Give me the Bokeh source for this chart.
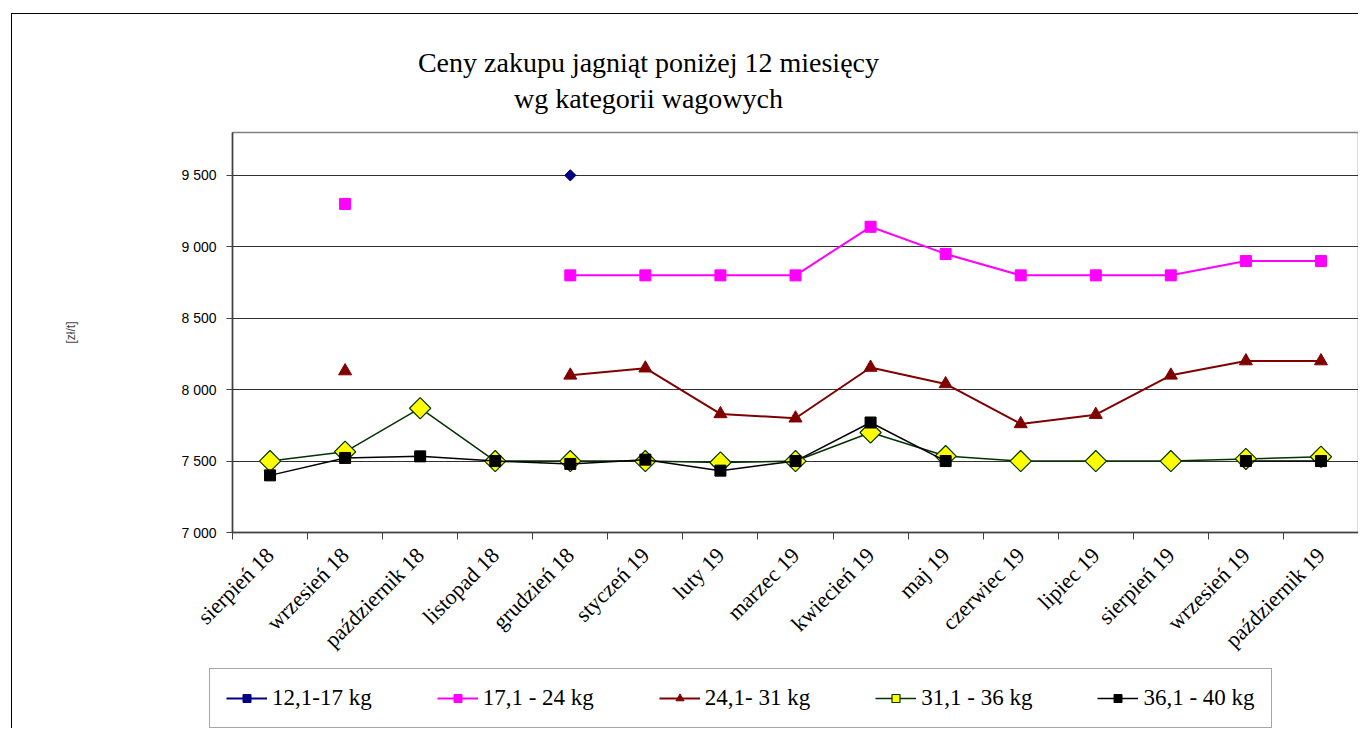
import math
from bokeh.plotting import figure
from bokeh.layouts import column
from bokeh.models import Range1d, FixedTicker, Legend, LegendItem, Title
from bokeh.embed import file_html
from bokeh.resources import INLINE

nan = float("nan")

months = ["sierpień 18", "wrzesień 18", "październik 18", "listopad 18", "grudzień 18",
          "styczeń 19", "luty 19", "marzec 19", "kwiecień 19", "maj 19", "czerwiec 19",
          "lipiec 19", "sierpień 19", "wrzesień 19", "październik 19"]

s_12_17 = [nan, nan, nan, nan, 9500, nan, nan, nan, nan, nan, nan, nan, nan, nan, nan]
s_17_24 = [nan, 9300, nan, nan, 8800, 8800, 8800, 8800, 9140, 8950, 8800, 8800, 8800, 8900, 8900]
s_24_31 = [nan, 8130, nan, nan, 8100, 8150, 7830, 7800, 8155, 8040, 7760, 7825, 8100, 8200, 8200]
s_31_36 = [7500, 7565, 7870, 7500, 7500, 7500, 7490, 7500, 7700, 7535, 7500, 7500, 7500, 7515, 7530]
s_36_40 = [7400, 7522, 7533, 7500, 7480, 7510, 7433, 7500, 7770, 7500, nan, nan, nan, 7500, 7500]

series_names = ["12,1-17 kg", "17,1 - 24 kg", "24,1- 31 kg", "31,1 - 36 kg", "36,1 - 40 kg"]

y_ticks = [7000, 7500, 8000, 8500, 9000, 9500]
y_tick_labels = ["7 000", "7 500", "8 000", "8 500", "9 000", "9 500"]

title_lines = ["Ceny zakupu jagniąt poniżej 12 miesięcy", "wg kategorii wagowych"]
y_label = "[zł/t]"

xs = [i + 0.5 for i in range(len(months))]

p = figure(width=1347, height=654, output_backend="svg", toolbar_location=None,
           x_range=Range1d(0, len(months)), y_range=Range1d(7000, 9800),
           min_border_left=220, min_border_right=1, min_border_top=118, min_border_bottom=136)
p.margin = (13, 0, 0, 11)
p.styles = {"border-left": "1px solid black", "border-top": "1px solid black"}
p.background_fill_color = "white"
p.border_fill_color = "white"
p.outline_line_color = "#808080"
p.outline_line_width = 1.5

# axes
xa = p.xaxis[0]
xa.ticker = FixedTicker(ticks=xs, minor_ticks=list(range(len(months) + 1)))
xa.major_label_overrides = {x: m for x, m in zip(xs, months)}
xa.major_label_orientation = math.pi / 4
xa.major_tick_line_color = None
xa.major_tick_out = 0
xa.major_tick_in = 0
xa.minor_tick_out = 7
xa.minor_tick_in = 0
xa.minor_tick_line_color = "#404040"
xa.major_label_standoff = 12
xa.major_label_text_font = "Liberation Serif"
xa.major_label_text_font_size = "22px"
xa.major_label_text_color = "black"
xa.axis_line_color = "#404040"
xa.axis_line_width = 1.5

ya = p.yaxis[0]
ya.ticker = FixedTicker(ticks=y_ticks)
ya.major_label_overrides = {t: l for t, l in zip(y_ticks, y_tick_labels)}
ya.major_tick_out = 6
ya.major_tick_in = 0
ya.minor_tick_line_color = None
ya.major_tick_line_color = "#404040"
ya.axis_line_color = "#404040"
ya.axis_line_width = 1.5
ya.major_label_standoff = 10
ya.major_label_text_font = "Liberation Sans"
ya.major_label_text_font_size = "14px"
ya.major_label_text_color = "black"
ya.axis_label = y_label
ya.axis_label_text_font = "Liberation Sans"
ya.axis_label_text_font_size = "12px"
ya.axis_label_text_font_style = "normal"
ya.axis_label_standoff = 100

p.xgrid.visible = False
p.ygrid.ticker = FixedTicker(ticks=y_ticks)
p.ygrid.grid_line_color = "#303030"
p.ygrid.grid_line_width = 1

# series styles
styles = [
    dict(color="#000080", lw=2, marker="square", angle=math.pi / 4, size=8, fill="#000080", mlw=1),
    dict(color="#FF00FF", lw=2, marker="square", angle=0, size=11, fill="#FF00FF", mlw=1),
    dict(color="#800000", lw=2, marker="triangle", angle=0, size=13, fill="#800000", mlw=1),
    dict(color="#003300", lw=1.5, marker="square", angle=math.pi / 4, size=15, fill="#FFFF00", mlw=1.2),
    dict(color="black", lw=1.5, marker="square", angle=0, size=11, fill="black", mlw=1),
]
series = [s_12_17, s_17_24, s_24_31, s_31_36, s_36_40]

for ys, st in zip(series, styles):
    p.line(xs, ys, line_color=st["color"], line_width=st["lw"])
    p.scatter(xs, ys, marker=st["marker"], angle=st["angle"], size=st["size"],
              fill_color=st["fill"], line_color=st["color"], line_width=st["mlw"])

# title (two lines, nearest line first)
title_size = 28
em_widths = [16.47, 9.61]
standoffs = [-30, 37]
for idx in (1, 0):
    w = em_widths[idx] * title_size
    p.add_layout(Title(text=title_lines[idx], align="left", offset=648 - w / 2 - 232,
                       text_font="Liberation Serif", text_font_size=f"{title_size}px",
                       text_font_style="normal", text_color="black",
                       standoff=standoffs[idx]),
                 "above")

# legend strip (separate figure below the chart, same styles)
p2 = figure(width=1347, height=61, output_backend="svg", toolbar_location=None,
            x_range=Range1d(0, 1), y_range=Range1d(0, 1),
            x_axis_type=None, y_axis_type=None,
            min_border_left=0, min_border_right=0, min_border_top=0, min_border_bottom=0)
p2.margin = (0, 0, 0, 11)
p2.styles = {"border-left": "1px solid black"}
p2.outline_line_color = None
p2.grid.visible = False
p2.background_fill_color = "white"
p2.border_fill_color = "white"

legend_x = 197
try:
    p.frame_align = False
    p2.frame_align = False
except Exception:
    legend_x = 0

items = []
for name, st in zip(series_names, styles):
    rl = p2.line([nan], [nan], line_color=st["color"], line_width=st["lw"])
    rm = p2.scatter([nan], [nan], marker=st["marker"], angle=st["angle"], size=st["size"],
                    fill_color=st["fill"], line_color=st["color"], line_width=st["mlw"])
    items.append(LegendItem(label=name, renderers=[rl, rm]))

legend = Legend(items=items, orientation="horizontal", location=(legend_x, 0),
                padding=16, margin=0, spacing=65, glyph_width=41, glyph_height=20,
                label_standoff=5, label_height=20,
                label_text_font="Liberation Serif", label_text_font_size="23px",
                label_text_color="black",
                border_line_color="#505050", border_line_width=1.2,
                background_fill_color="white")
p2.add_layout(legend, "center")

layout = column(p, p2, spacing=0)
open("out.html", "w").write(file_html(layout, INLINE))
